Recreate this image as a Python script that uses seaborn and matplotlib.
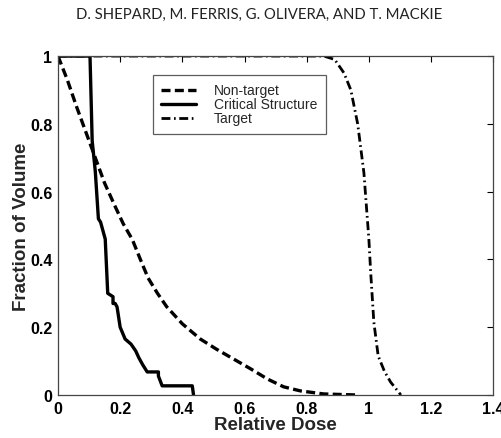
import matplotlib
matplotlib.use("Agg")
import matplotlib.pyplot as plt
import seaborn as sns
import numpy as np

# dose-volume histogram curves
nontarget_dose = [0.0, 0.03, 0.06, 0.09, 0.12, 0.15, 0.184, 0.21, 0.239, 0.265, 0.29, 0.32, 0.35,
                  0.40, 0.458, 0.51, 0.565, 0.62, 0.674, 0.726, 0.78, 0.855, 0.96]
nontarget_vol = [1.0, 0.93, 0.85, 0.775, 0.70, 0.625, 0.556, 0.505, 0.459, 0.40, 0.345, 0.30, 0.26,
                 0.21, 0.165, 0.135, 0.106, 0.077, 0.047, 0.024, 0.012, 0.003, 0.0]

critical_dose = [0.0, 0.103, 0.11, 0.12, 0.13, 0.137, 0.152, 0.16, 0.16, 0.177, 0.177, 0.184,
                 0.19, 0.2, 0.216, 0.235, 0.25, 0.26, 0.272, 0.287, 0.323, 0.323, 0.335, 0.432, 0.436]
critical_vol = [1.0, 1.0, 0.75, 0.66, 0.52, 0.51, 0.46, 0.30, 0.30, 0.29, 0.27, 0.27,
                0.26, 0.20, 0.165, 0.15, 0.13, 0.11, 0.09, 0.068, 0.068, 0.056, 0.027, 0.027, 0.0]

target_dose = [0.0, 0.855, 0.89, 0.92, 0.942, 0.964, 0.984, 1.0, 1.006, 1.016, 1.03, 1.05, 1.07, 1.09, 1.103]
target_vol = [1.0, 1.0, 0.99, 0.95, 0.90, 0.80, 0.656, 0.46, 0.36, 0.215, 0.115, 0.07, 0.038, 0.015, 0.0]

xticks = [0, 0.2, 0.4, 0.6, 0.8, 1, 1.2, 1.4]
xticklabels = ["0", "0.2", "0.4", "0.6", "0.8", "1", "1.2", "1.4"]
yticks = [0, 0.2, 0.4, 0.6, 0.8, 1]
yticklabels = ["0", "0.2", "0.4", "0.6", "0.8", "1"]

sns.set_style("white")
plt.rcParams["font.family"] = ["Liberation Sans", "DejaVu Sans"]

fig = plt.figure(figsize=(5.02, 4.39), dpi=100)
ax = fig.add_axes([0.1155, 0.098, 0.867, 0.772])

sns.lineplot(x=nontarget_dose, y=nontarget_vol, ax=ax, color="k", lw=2.4,
             sort=False, estimator=None, label="Non-target")
ax.lines[-1].set_dashes([2.7, 1.3])
sns.lineplot(x=critical_dose, y=critical_vol, ax=ax, color="k", lw=2.4,
             sort=False, estimator=None, label="Critical Structure")
sns.lineplot(x=target_dose, y=target_vol, ax=ax, color="k", lw=2.0,
             sort=False, estimator=None, label="Target")
ax.lines[-1].set_dashes([3.2, 1.3, 0.6, 1.3])

ax.set_xlim(0, 1.4)
ax.set_ylim(0, 1)
ax.set_xticks(xticks)
ax.set_xticklabels(xticklabels)
ax.set_yticks(yticks)
ax.set_yticklabels(yticklabels)
ax.tick_params(direction="in", length=4, width=0.8, top=True, right=True,
               labelsize=11.5, pad=4, colors="k")
for lab in ax.get_xticklabels() + ax.get_yticklabels():
    lab.set_fontweight("bold")
for sp in ax.spines.values():
    sp.set_color("#444444")
    sp.set_linewidth(0.9)

ax.set_xlabel("Relative Dose", fontsize=13.5, fontweight="bold", labelpad=0)
ax.set_ylabel("Fraction of Volume", fontsize=13.5, fontweight="bold", labelpad=0)

leg = ax.legend(loc="upper left", bbox_to_anchor=(0.218, 0.944), fontsize=10,
                frameon=True, fancybox=False, handlelength=2.5, borderpad=0.6,
                labelspacing=0.0, handletextpad=1.3, borderaxespad=0)
leg.get_frame().set_edgecolor("#333333")
leg.get_frame().set_linewidth(0.9)

fig.text(0.516, 0.966, "D. SHEPARD, M. FERRIS, G. OLIVERA, AND T. MACKIE",
         ha="center", va="center", fontsize=10.7, family=["Lato", "DejaVu Sans"], color="#222222")

fig.savefig("out.png", dpi=100)
